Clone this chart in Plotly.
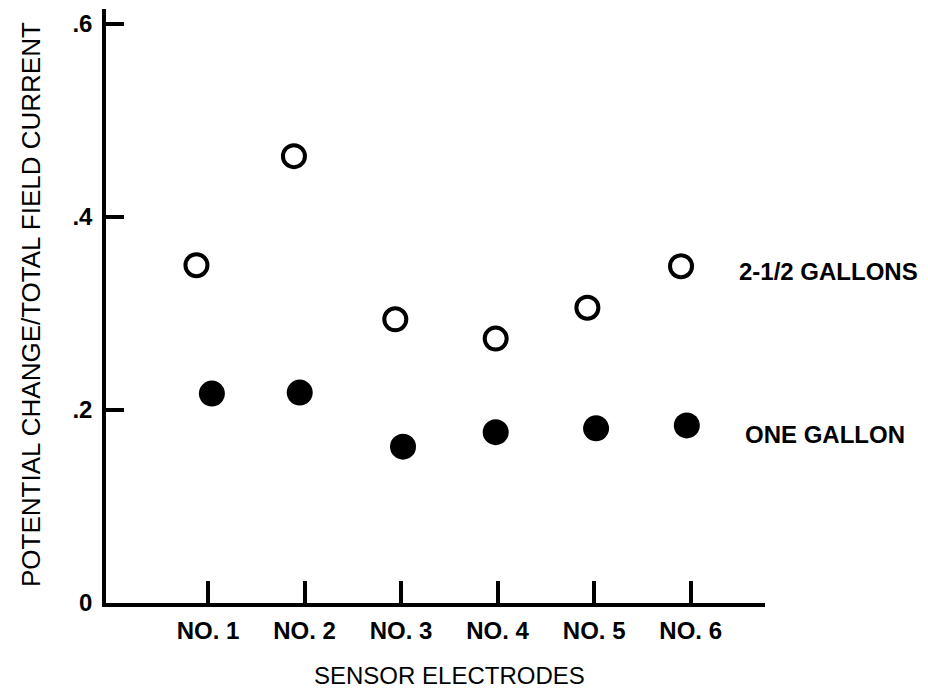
import plotly.graph_objects as go

# Data
electrodes = ["NO. 1", "NO. 2", "NO. 3", "NO. 4", "NO. 5", "NO. 6"]
electrode_pos = [1, 2, 3, 4, 5, 6]
# plotted x positions of the markers (slightly offset from ticks in original)
x_two_half = [0.88, 1.89, 2.94, 3.98, 4.93, 5.90]
y_two_half = [0.350, 0.463, 0.294, 0.274, 0.306, 0.349]
x_one = [1.04, 1.95, 3.02, 3.98, 5.02, 5.96]
y_one = [0.217, 0.218, 0.162, 0.177, 0.181, 0.184]
y_ticks = [0, 0.2, 0.4, 0.6]
y_tick_text = ["0", ".2", ".4", ".6"]
series_names = ["2-1/2 GALLONS", "ONE GALLON"]

FONT = "Liberation Sans, Arial, sans-serif"

fig = go.Figure()
fig.add_trace(go.Scatter(
    x=x_two_half, y=y_two_half, mode="markers", name=series_names[0],
    marker=dict(symbol="circle-open", size=22, color="black", line=dict(width=4, color="black")),
    cliponaxis=False,
))
fig.add_trace(go.Scatter(
    x=x_one, y=y_one, mode="markers", name=series_names[1],
    marker=dict(symbol="circle", size=26, color="black", line=dict(width=0)),
    cliponaxis=False,
))

fig.update_layout(
    width=928, height=691,
    margin=dict(l=106, r=163, t=9, b=88),
    paper_bgcolor="white", plot_bgcolor="white",
    showlegend=False,
    font=dict(family=FONT, color="black"),
    xaxis=dict(
        range=[-0.057, 6.77], showgrid=False, zeroline=False,
        showline=True, linecolor="black", linewidth=3.5,
        tickmode="array", tickvals=electrode_pos, ticktext=electrodes,
        ticks="inside", ticklen=22, tickwidth=3.5, tickcolor="black",
        tickfont=dict(size=24, family=FONT, weight="bold"),
        ticklabelstandoff=3,
    ),
    yaxis=dict(
        range=[0, 0.6155], showgrid=False, zeroline=False,
        showline=True, linecolor="black", linewidth=3.5,
        tickmode="array", tickvals=y_ticks, ticktext=y_tick_text,
        ticks="inside", ticklen=18, tickwidth=3.5, tickcolor="black",
        tickfont=dict(size=24, family=FONT, weight="bold"),
        ticklabelstandoff=5,
    ),
    annotations=[
        dict(text="POTENTIAL CHANGE/TOTAL FIELD CURRENT", textangle=-90,
             xref="paper", yref="paper", x=0, y=(603 - 305) / 594, xshift=-75,
             xanchor="center", yanchor="middle", showarrow=False,
             font=dict(size=26, family=FONT)),
        dict(text="SENSOR ELECTRODES",
             xref="paper", yref="paper", x=(449 - 106) / 659, y=0, yshift=-72,
             xanchor="center", yanchor="middle", showarrow=False,
             font=dict(size=24, family=FONT)),
        dict(text=series_names[0], xref="x", yref="y", x=6.48, y=0.343,
             xanchor="left", yanchor="middle", showarrow=False,
             font=dict(size=24, family=FONT, weight="bold")),
        dict(text=series_names[1], xref="x", yref="y", x=6.54, y=0.175,
             xanchor="left", yanchor="middle", showarrow=False,
             font=dict(size=24, family=FONT, weight="bold")),
    ],
)

fig.write_html("out.html")
